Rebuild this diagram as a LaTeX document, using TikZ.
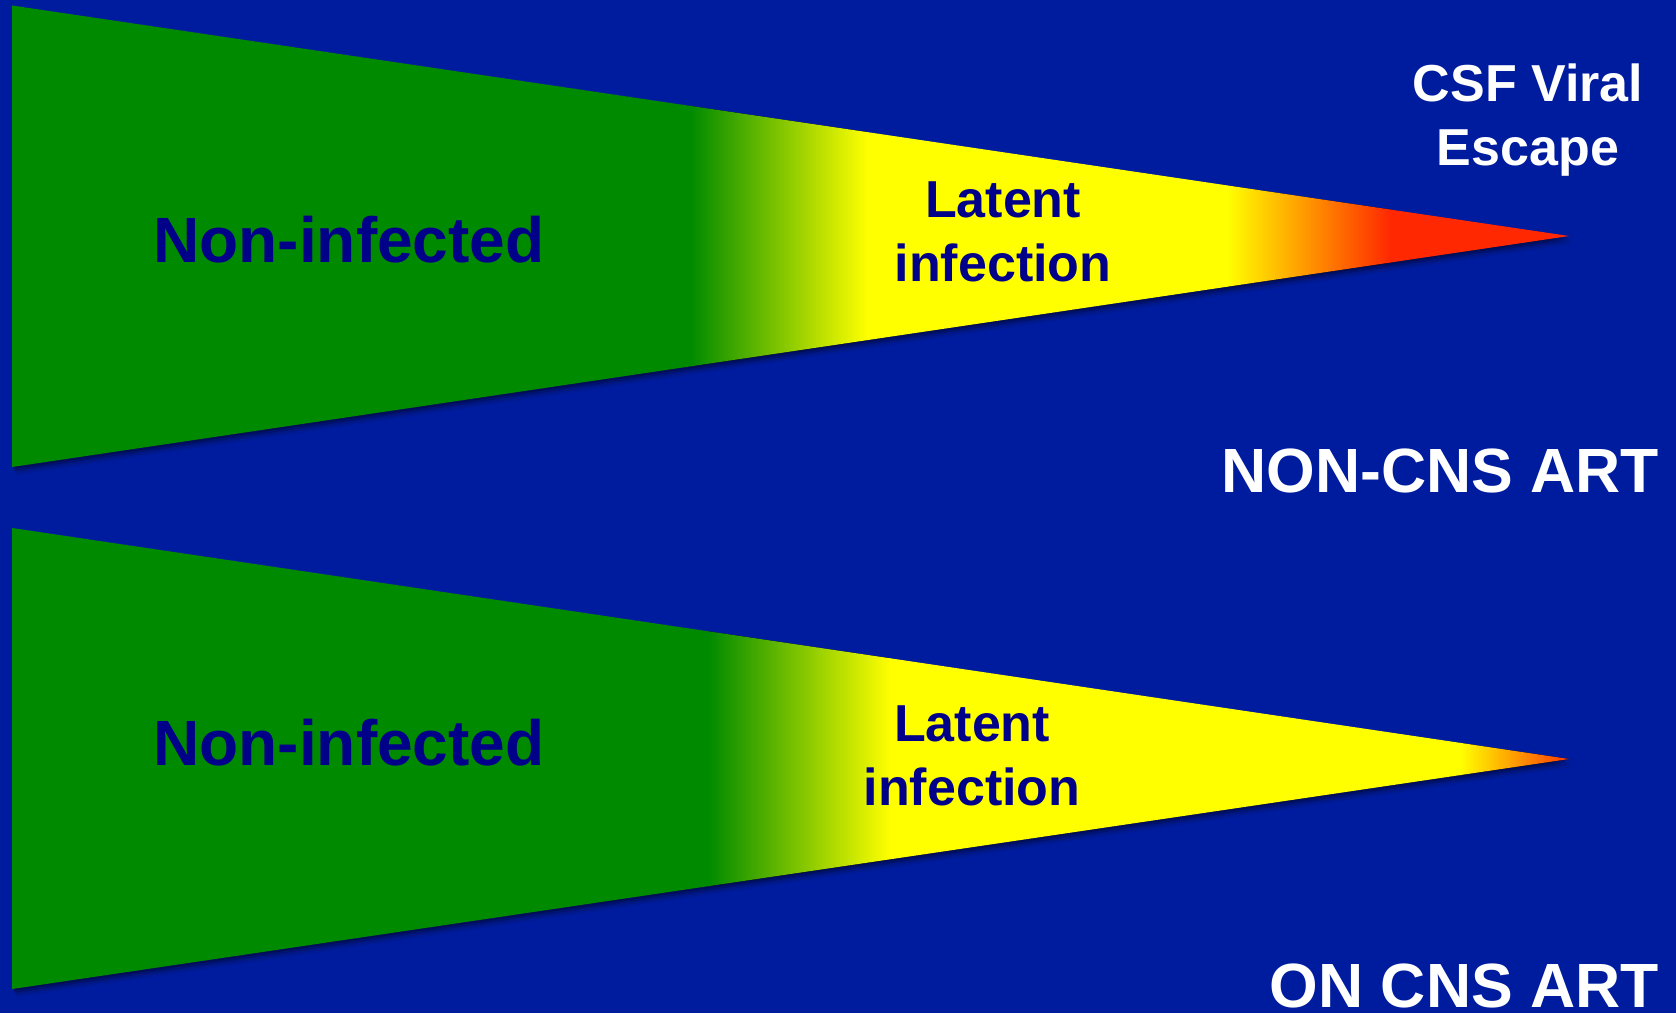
\documentclass[tikz,border=0pt]{standalone}
\usepackage{fontspec}
\setmainfont{Liberation Sans}
\definecolor{bgblue}{RGB}{0,28,158}
\definecolor{cgreen}{RGB}{0,138,0}
\definecolor{cyellow}{RGB}{255,255,0}
\definecolor{cred}{RGB}{255,40,0}
\definecolor{ctipred}{RGB}{255,55,0}
\definecolor{cnavy}{RGB}{0,0,136}
\tikzset{
  bigtxt/.style={font=\fontsize{64}{64}\selectfont\bfseries, inner sep=0pt},
  cornertxt/.style={font=\fontsize{62.5}{64}\selectfont\bfseries, inner sep=0pt},
  midtxt/.style={font=\fontsize{52}{64}\selectfont\bfseries, inner sep=0pt, align=center},
  navytxt/.style={text=cnavy},
  whitetxt/.style={text=white},
}
\begin{document}
\begin{tikzpicture}[x=1pt,y=-1pt]
\fill[bgblue] (0,0) rectangle (1676,1013);
\useasboundingbox (0,0) rectangle (1676,1013);
% shadows
\foreach \dx/\dy/\op in {1/2/0.22,2/4/0.15,3/6/0.10,4/8/0.06}{
  \fill[black,opacity=\op] (12+\dx,5.5+\dy) -- (1569+\dx,236+\dy) -- (12+\dx,467+\dy) -- cycle;
  \fill[black,opacity=\op] (12+\dx,528+\dy) -- (1569+\dx,759+\dy) -- (12+\dx,989+\dy) -- cycle;
}
% top wedge
\begin{scope}
  \clip (12,5.5) -- (1569,236) -- (12,467) -- cycle;
  \fill[cgreen] (0,0) rectangle (690.5,480);
  \fill[left color=cgreen,right color=cyellow] (690,0) rectangle (867.5,480);
  \fill[cyellow] (867,0) rectangle (1227.5,480);
  \fill[left color=cyellow,right color=cred] (1227,0) rectangle (1390.5,480);
  \fill[cred] (1390,0) rectangle (1580,480);
\end{scope}
% bottom wedge
\begin{scope}
  \clip (12,528) -- (1569,759) -- (12,989) -- cycle;
  \fill[cgreen] (0,500) rectangle (708.5,1000);
  \fill[left color=cgreen,right color=cyellow] (708,500) rectangle (890.5,1000);
  \fill[cyellow] (890,500) rectangle (1460.5,1000);
  \fill[left color=cyellow,right color=ctipred] (1460,500) rectangle (1570,1000);
\end{scope}
% labels
\node[bigtxt,navytxt,anchor=base] (ni1) at (349,262) {Non-infected};
\node[bigtxt,navytxt,anchor=base] (ni2) at (349,765) {Non-infected};
\node[midtxt,navytxt] (lat1) at (1003,232) {Latent\\infection};
\node[midtxt,navytxt] (lat2) at (972,756) {Latent\\infection};
\node[midtxt,whitetxt] (csf) at (1528,120) {CSF Viral\\Escape};
\node[cornertxt,whitetxt,anchor=base east] (noncns) at (1659,492) {NON-CNS ART};
\node[cornertxt,whitetxt,anchor=base east] (oncns) at (1659,1007) {ON CNS ART};
\end{tikzpicture}
\end{document}
